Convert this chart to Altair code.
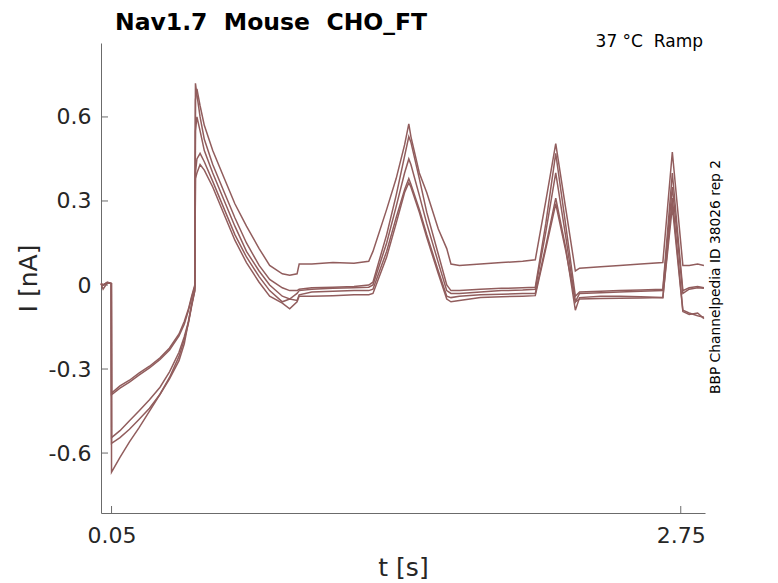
import altair as alt
import pandas as pd

# time grid (s)
T = [0.0, 0.01, 0.03, 0.049, 0.05, 0.09, 0.135, 0.18, 0.23, 0.28, 0.325, 0.37, 0.395, 0.415, 0.43, 0.445,
     0.448, 0.455, 0.47, 0.49, 0.53, 0.585, 0.635, 0.69, 0.75, 0.80, 0.86, 0.895, 0.93, 0.94,
     1.0, 1.1, 1.2, 1.27,
     1.29, 1.355, 1.40, 1.44, 1.46, 1.47, 1.51, 1.545, 1.60, 1.64, 1.66, 1.70,
     1.80, 1.90, 2.00, 2.06,
     2.11, 2.157, 2.205, 2.25, 2.27,
     2.37, 2.46, 2.56,
     2.665, 2.71, 2.76, 2.79, 2.83, 2.86]

# current traces (nA)
TRACE_A = [0.005, 0.0, 0.008, 0.005,
           -0.386, -0.36, -0.34, -0.315, -0.29, -0.26, -0.225, -0.175, -0.13, -0.085, -0.04, 0.0,
           0.66, 0.70, 0.64, 0.57, 0.48, 0.38, 0.29, 0.21, 0.13, 0.07, 0.04, 0.035, 0.04, 0.075,
           0.075, 0.08, 0.078, 0.085,
           0.12, 0.27, 0.38, 0.50, 0.575, 0.53, 0.40, 0.33, 0.20, 0.13, 0.075, 0.07,
           0.075, 0.08, 0.085, 0.09,
           0.30, 0.505, 0.27, 0.05, 0.06,
           0.065, 0.07, 0.075,
           0.08, 0.475, 0.07, 0.07, 0.075, 0.07]
TRACE_E = [0.005, 0.0, 0.008, 0.005,
           -0.392, -0.368, -0.347, -0.322, -0.296, -0.266, -0.232, -0.182, -0.14, -0.09, -0.045, -0.005,
           0.72, 0.68, 0.60, 0.52, 0.43, 0.33, 0.24, 0.15, 0.07, 0.02, -0.01, -0.02, -0.02, -0.015,
           -0.01, -0.008, -0.005, 0.0,
           0.01, 0.18, 0.32, 0.46, 0.53, 0.51, 0.38, 0.26, 0.11, 0.0, -0.02, -0.02,
           -0.015, -0.012, -0.01, -0.008,
           0.22, 0.47, 0.21, -0.04, -0.025,
           -0.022, -0.02, -0.018,
           -0.015, 0.40, -0.02, -0.01, -0.005, -0.01]
TRACE_B = [0.005, -0.015, 0.008, 0.005,
           -0.545, -0.52, -0.485, -0.45, -0.41, -0.365, -0.31, -0.24, -0.185, -0.13, -0.07, -0.02,
           0.55, 0.60, 0.55, 0.48, 0.40, 0.30, 0.21, 0.12, 0.05, 0.0, -0.04, -0.05, -0.03, -0.02,
           -0.015, -0.012, -0.01, -0.008,
           0.0, 0.15, 0.28, 0.40, 0.45, 0.43, 0.32, 0.22, 0.08, -0.02, -0.03, -0.03,
           -0.025, -0.02, -0.018, -0.015,
           0.19, 0.40, 0.17, -0.06, -0.03,
           -0.028, -0.025, -0.022,
           -0.02, 0.35, -0.03, -0.015, -0.01, -0.012]
TRACE_C = [0.005, 0.0, 0.01, 0.005,
           -0.565, -0.545, -0.515, -0.48, -0.44, -0.39, -0.33, -0.255, -0.195, -0.135, -0.075, -0.02,
           0.40, 0.45, 0.47, 0.44, 0.37, 0.27, 0.18, 0.10, 0.03, -0.02, -0.06, -0.05, -0.055, -0.035,
           -0.025, -0.022, -0.02, -0.02,
           -0.015, 0.12, 0.24, 0.34, 0.38, 0.36, 0.27, 0.18, 0.05, -0.04, -0.045, -0.04,
           -0.035, -0.033, -0.03, -0.03,
           0.14, 0.31, 0.13, -0.09, -0.045,
           -0.04, -0.04, -0.042,
           -0.045, 0.31, -0.09, -0.10, -0.11, -0.115]
TRACE_D = [0.005, 0.0, 0.008, 0.005,
           -0.668, -0.615, -0.56, -0.51, -0.45, -0.39, -0.335, -0.27, -0.21, -0.13, -0.07, -0.01,
           0.38, 0.40, 0.43, 0.41, 0.35, 0.25, 0.16, 0.08, 0.01, -0.04, -0.065, -0.085, -0.06, -0.04,
           -0.04, -0.038, -0.035, -0.035,
           -0.03, 0.10, 0.22, 0.33, 0.365, 0.35, 0.26, 0.17, 0.04, -0.05, -0.06, -0.055,
           -0.045, -0.042, -0.04, -0.038,
           0.13, 0.29, 0.12, -0.06, -0.05,
           -0.048, -0.047, -0.046,
           -0.045, 0.28, -0.095, -0.105, -0.10, -0.12]

TRACES = {"A": TRACE_A, "B": TRACE_B, "C": TRACE_C, "D": TRACE_D, "E": TRACE_E}

X_TICKS = [0.05, 2.75]
Y_TICKS = [-0.6, -0.3, 0, 0.3, 0.6]

TITLE = "Nav1.7\u00a0\u00a0Mouse\u00a0\u00a0CHO_FT"
TEMP_TEXT = "37 \u00b0C\u00a0\u00a0Ramp"
SIDE_TEXT = "BBP Channelpedia ID 38026 rep 2"

rows = []
for name, vals in TRACES.items():
    for t, v in zip(T, vals):
        rows.append({"trace": name, "t": t, "I": v})
df = pd.DataFrame(rows)

LINE_COLOR = "#915d5d"
AXIS_COLOR = "#6b6b6b"
TEXT_COLOR = "#262626"
FONT = "DejaVu Sans"

W, H = 604, 470

x_scale = alt.Scale(domain=[0.0, 2.865], nice=False, zero=False)
y_scale = alt.Scale(domain=[-0.814, 0.864], nice=False, zero=False)

x_axis = alt.Axis(values=X_TICKS, labelExpr="'' + datum.value", ticks=False, tickSize=0,
                  grid=False, domainColor=AXIS_COLOR, domainWidth=1,
                  labelFont=FONT, labelFontSize=22, labelColor=TEXT_COLOR, labelPadding=12,
                  title="t [s]", titleFont=FONT, titleFontSize=25, titleFontWeight="normal",
                  titleColor=TEXT_COLOR, titleX=302, titleY=62, titleBaseline="alphabetic",
                  titleAlign="center")
y_axis = alt.Axis(values=Y_TICKS, labelExpr="'' + datum.value", ticks=False, tickSize=0,
                  grid=False, domainColor=AXIS_COLOR, domainWidth=1,
                  labelFont=FONT, labelFontSize=22, labelColor=TEXT_COLOR, labelPadding=10,
                  title="I [nA]", titleFont=FONT, titleFontSize=25, titleFontWeight="normal",
                  titleColor=TEXT_COLOR, titleX=-65, titleY=235, titleAngle=270,
                  titleBaseline="alphabetic", titleAlign="center")

lines = alt.Chart(df).mark_line(strokeWidth=1.5, color=LINE_COLOR).encode(
    x=alt.X("t:Q", scale=x_scale, axis=x_axis),
    y=alt.Y("I:Q", scale=y_scale, axis=y_axis),
    detail="trace:N",
    order="t:Q",
)

yticks = alt.Chart(pd.DataFrame({"I": Y_TICKS})).mark_rule(color=AXIS_COLOR, strokeWidth=1).encode(
    y=alt.Y("I:Q", scale=y_scale, axis=y_axis),
    x=alt.value(0), x2=alt.value(7),
)
xticks = alt.Chart(pd.DataFrame({"t": X_TICKS})).mark_rule(color=AXIS_COLOR, strokeWidth=1).encode(
    x=alt.X("t:Q", scale=x_scale, axis=x_axis),
    y=alt.value(H), y2=alt.value(H - 7),
)

title = alt.Chart(pd.DataFrame({"s": [TITLE]})).mark_text(
    font=FONT, fontSize=23.5, fontWeight="bold", color="black", align="left", baseline="alphabetic"
).encode(text="s:N", x=alt.value(14), y=alt.value(-13))

temp = alt.Chart(pd.DataFrame({"s": [TEMP_TEXT]})).mark_text(
    font=FONT, fontSize=17, color="black", align="right", baseline="alphabetic"
).encode(text="s:N", x=alt.value(602), y=alt.value(4))

side = alt.Chart(pd.DataFrame({"s": [SIDE_TEXT]})).mark_text(
    font=FONT, fontSize=13.8, color="black", align="center", baseline="alphabetic", angle=270
).encode(text="s:N", x=alt.value(619), y=alt.value(234))

chart = alt.layer(yticks, xticks, lines, title, temp, side).properties(
    width=W, height=H,
    background="white",
    autosize=alt.AutoSizeParams(type="none"),
    padding={"left": 93, "top": 35, "right": 65, "bottom": 67},
).configure_view(strokeWidth=0, stroke="transparent")

chart.save("out.html", embed_options={"renderer": "svg", "actions": False})
